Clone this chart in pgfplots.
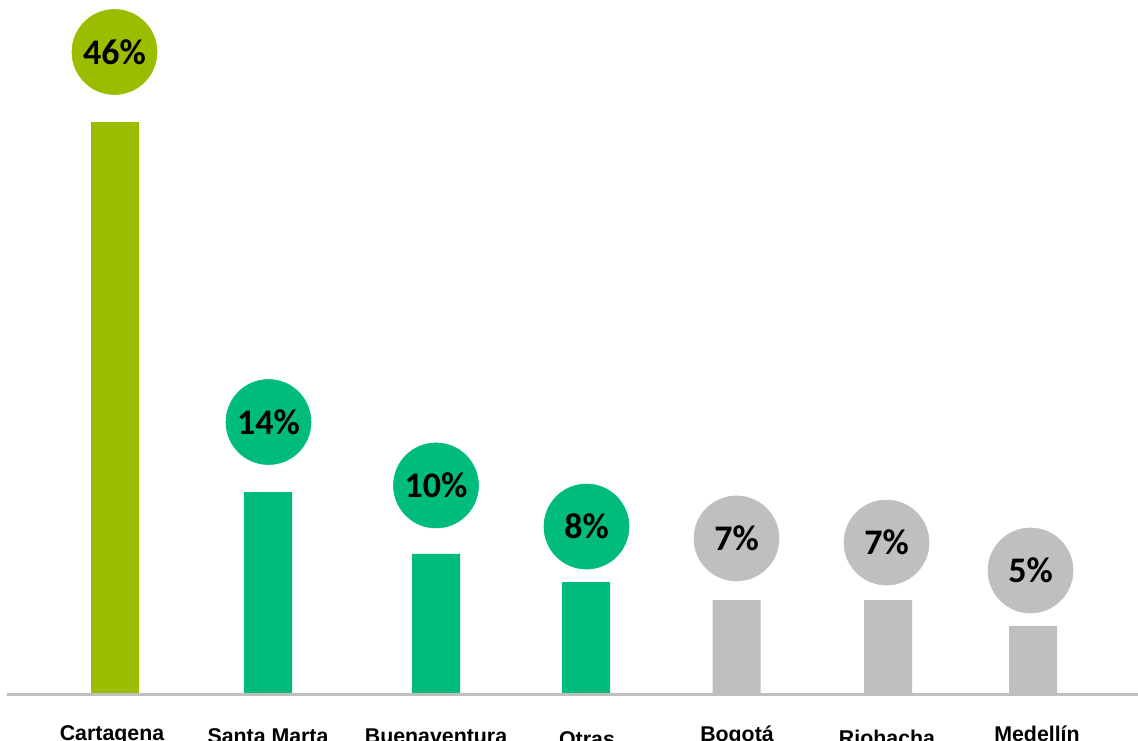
\documentclass[border=0pt]{standalone}
\usepackage{pgfplots}
\pgfplotsset{compat=1.18}
\usepackage{fontspec}
\setmainfont{Liberation Sans}
\newfontfamily\calibri{Carlito}
\definecolor{lima}{HTML}{9BBD00}
\definecolor{jade}{HTML}{00BB7E}
\definecolor{gris}{HTML}{BFBFBF}

\pgfplotsset{
  barra/.style={ybar, bar width=36pt, bar shift=0pt, draw=none},
  burbuja/.style={only marks, mark=*, mark size=31.9pt, #1,
    nodes near coords, point meta=explicit symbolic,
    nodes near coords align={anchor=center},
    every node near coord/.style={font=\calibri\bfseries\fontsize{27}{27}\selectfont,
      text=black, inner sep=0pt}},
}

\begin{document}
\begin{tikzpicture}
\begin{axis}[
  at={(0,0)}, anchor=south west,
  scale only axis, width=853.5pt, height=555.75pt,
  xmin=0, xmax=1138,
  ymin=-3.867, ymax=55.83,
  hide axis, clip=false,
]
% barras
\addplot[barra, fill=lima] coordinates {(115,46)};
\addplot[barra, fill=jade] coordinates {(268,16.19) (436,11.2) (586,8.94)};
\addplot[barra, fill=gris] coordinates {(736.5,7.49) (888,7.49) (1033,5.40)};

% linea base
\draw[gris, line width=2.25pt] (axis cs:7,-0.12) -- (axis cs:1138,-0.12);

% burbujas con porcentaje
\addplot[burbuja=lima] coordinates {(114.5,51.64) [46\%]};
\addplot[burbuja=jade] coordinates {(268.5,21.83) [14\%] (436,16.72) [10\%] (586.5,13.41) [8\%]};
\addplot[burbuja=gris] coordinates {(736.5,12.45) [7\%] (886.5,12.12) [7\%] (1030.5,9.87) [5\%]};

% nombres de ciudades
\addplot[only marks, mark=none, nodes near coords, point meta=explicit symbolic,
  nodes near coords align={anchor=base},
  every node near coord/.style={font=\bfseries\fontsize{16}{16}\selectfont,
    text=black, inner sep=0pt}]
  coordinates {
    (112,-3.79) [Cartagena]
    (268,-4.03) [Santa Marta]
    (436,-4.03) [Buenaventura]
    (587,-4.35) [Otras]
    (737,-3.87) [Bogotá]
    (887,-4.19) [Riohacha]
    (1037,-3.87) [Medellín]
  };
\end{axis}
\pgfresetboundingbox
\path (0,0) rectangle (853.5pt,555.75pt);
\end{tikzpicture}
\end{document}
